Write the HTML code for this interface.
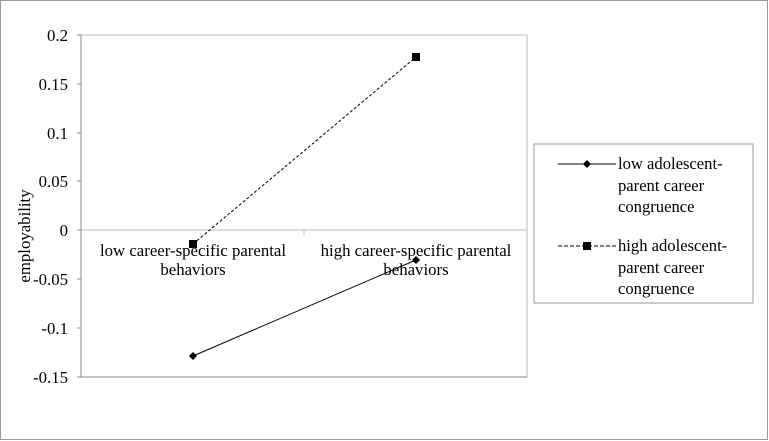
<!DOCTYPE html>
<html><head><style>body{margin:0;background:#fff}svg{display:block}svg text{font-family:'Liberation Serif','DejaVu Serif','Times New Roman',serif;fill:#000}</style></head><body>
<svg width="769" height="441" viewBox="0 0 769 441" font-family="Liberation Serif, DejaVu Serif, serif">
<rect x="0.5" y="0.5" width="767" height="439" fill="#fff" stroke="#999"/>
<rect x="81" y="35" width="446" height="342" fill="none" stroke="#bbb"/>
<line x1="81" y1="230" x2="527" y2="230" stroke="#bbb"/>
<line x1="304" y1="230" x2="304" y2="235" stroke="#bbb"/>
<line x1="81" y1="35" x2="81" y2="377" stroke="#888"/>
<line x1="81" y1="377" x2="527" y2="377" stroke="#888"/>
<g stroke="#888"><line x1="77" y1="35" x2="81" y2="35"/><line x1="77" y1="84" x2="81" y2="84"/><line x1="77" y1="133" x2="81" y2="133"/><line x1="77" y1="181" x2="81" y2="181"/><line x1="77" y1="230" x2="81" y2="230"/><line x1="77" y1="279" x2="81" y2="279"/><line x1="77" y1="328" x2="81" y2="328"/><line x1="77" y1="377" x2="81" y2="377"/></g>
<g font-size="16.8" text-anchor="end"><text x="68" y="41">0.2</text><text x="68" y="90">0.15</text><text x="68" y="139">0.1</text><text x="68" y="187">0.05</text><text x="68" y="236">0</text><text x="68" y="285">-0.05</text><text x="68" y="334">-0.1</text><text x="68" y="383">-0.15</text></g>
<text transform="translate(30,236) rotate(-90)" font-size="16.8" text-anchor="middle">employability</text>
<g font-size="16.8" text-anchor="middle"><text x="193" y="256">low career-specific parental</text><text x="193" y="275">behaviors</text><text x="416" y="256">high career-specific parental</text><text x="416" y="275">behaviors</text></g>
<line x1="193" y1="244" x2="416" y2="57" stroke="#000" stroke-dasharray="3,2"/>
<line x1="193" y1="356" x2="416" y2="260" stroke="#000"/>
<rect x="189" y="240" width="8" height="8"/><rect x="412" y="53" width="8" height="8"/>
<polygon points="193,352 197,356 193,360 189,356"/><polygon points="416,256 420,260 416,264 412,260"/>
<rect x="534" y="144" width="219" height="159" fill="none" stroke="#999"/>
<line x1="558" y1="164" x2="616" y2="164" stroke="#000"/><polygon points="587,160 591,164 587,168 583,164"/>
<line x1="558" y1="246" x2="616" y2="246" stroke="#000" stroke-dasharray="4,2"/><rect x="583" y="242" width="8" height="8"/>
<g font-size="16.6"><text x="618" y="169">low adolescent-</text><text x="618" y="191">parent career</text><text x="618" y="212">congruence</text><text x="618" y="251">high adolescent-</text><text x="618" y="273">parent career</text><text x="618" y="294">congruence</text></g>
</svg></body></html>
